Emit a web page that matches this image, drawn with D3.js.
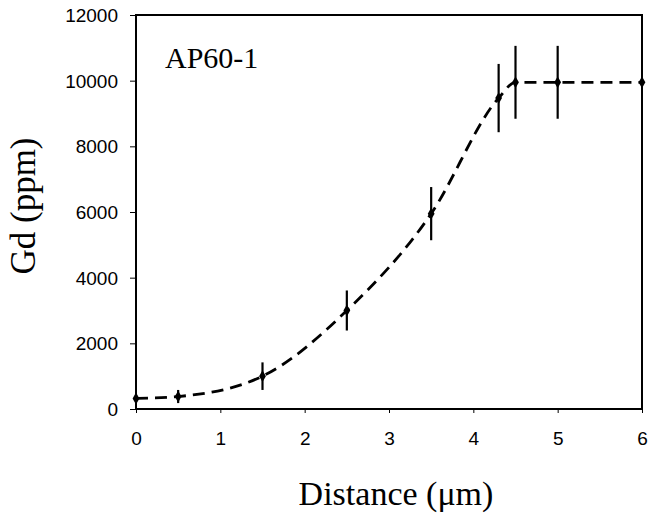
<!DOCTYPE html>
<html><head><meta charset="utf-8">
<script src="https://cdn.jsdelivr.net/npm/d3@7"></script>
<style>body{margin:0;background:#fff}</style>
</head><body>
<svg id="c" width="662" height="514"></svg>
<script>
const distance = [0, 0.5, 1.5, 2.5, 3.5, 4.3, 4.5, 5, 6];
const gd = [320, 380, 1000, 3000, 5950, 9470, 9950, 9950, 9950];
const gdErr = [0, 200, 420, 610, 810, 1040, 1110, 1110, 0];
const xTicks = [0, 1, 2, 3, 4, 5, 6];
const yTicks = [0, 2000, 4000, 6000, 8000, 10000, 12000];
const title = "AP60-1";
const xTitle = "Distance (\u03bcm)";
const yTitle = "Gd (ppm)";

const svg = d3.select("#c");
const L = 136, R = 642, T = 15, B = 409;
const x = d3.scaleLinear().domain([0, 6]).range([L, R]);
const y = d3.scaleLinear().domain([0, 12000]).range([B, T]);

const data = distance.map((d, i) => ({x: d, y: gd[i], e: gdErr[i]}));

// axes
const xa = svg.append("g").attr("transform", `translate(0,${B})`)
  .call(d3.axisBottom(x).tickValues(xTicks).tickSize(4).tickPadding(19).tickFormat(d3.format("d")));
const ya = svg.append("g").attr("transform", `translate(${L},0)`)
  .call(d3.axisLeft(y).tickValues(yTicks).tickSize(6).tickPadding(12).tickFormat(d3.format("d")));
[xa, ya].forEach(a => {
  a.select(".domain").remove();
  a.selectAll("line").attr("stroke", "#000").attr("stroke-width", 1);
  a.selectAll("text").attr("font-family", "Liberation Sans, Arial, sans-serif")
    .attr("font-size", 19).attr("fill", "#000");
});
ya.selectAll("text").attr("dy", "0.35em");
xa.selectAll("text").attr("dy", "0.71em");

// frame
svg.append("rect").attr("x", L).attr("y", T).attr("width", R - L).attr("height", B - T)
  .attr("fill", "none").attr("stroke", "#000").attr("stroke-width", 2);

// dashed curve
const line = d3.line().x(d => x(d.x)).y(d => y(d.y)).curve(d3.curveMonotoneX);
svg.append("path").datum(data).attr("d", line).attr("fill", "none")
  .attr("stroke", "#000").attr("stroke-width", 2.8).attr("stroke-dasharray", "12,7");

// error bars
svg.selectAll(".eb").data(data.filter(d => d.e > 0)).enter().append("line")
  .attr("x1", d => x(d.x)).attr("x2", d => x(d.x))
  .attr("y1", d => y(d.y - d.e)).attr("y2", d => y(d.y + d.e))
  .attr("stroke", "#000").attr("stroke-width", 2.2);

// markers
svg.selectAll(".m").data(data).enter().append("path")
  .attr("d", d3.symbol().type(d3.symbolDiamond).size(40))
  .attr("transform", d => `translate(${x(d.x)},${y(d.y)})`).attr("fill", "#000");

// texts
svg.append("text").attr("x", 165).attr("y", 68).text(title)
  .attr("font-family", "Liberation Serif, Times New Roman, serif").attr("font-size", 30);
svg.append("text").attr("x", 396).attr("y", 505).attr("text-anchor", "middle").text(xTitle)
  .attr("font-family", "Liberation Serif, Times New Roman, serif").attr("font-size", 34);
svg.append("text").attr("transform", "translate(35,206) rotate(-90)").attr("text-anchor", "middle").text(yTitle)
  .attr("font-family", "Liberation Serif, Times New Roman, serif").attr("font-size", 35);
</script>
</body></html>
